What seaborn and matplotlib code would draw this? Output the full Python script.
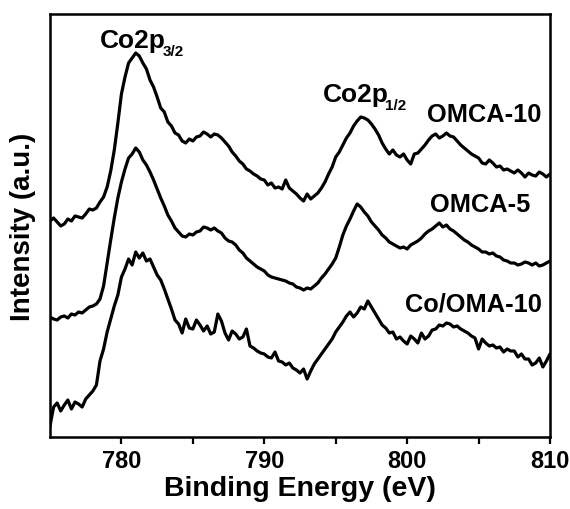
import numpy as np
import pandas as pd
import matplotlib
matplotlib.use("Agg")
import matplotlib.pyplot as plt
import seaborn as sns

# Binding energy grid (eV), 0.25 eV step
energy = np.arange(775.0, 810.001, 0.25)

omca10 = [216, 219, 215, 211, 213, 218, 216, 221, 220, 219, 223, 228, 227, 229, 235, 240,
          250, 266, 287, 314, 343, 360, 374, 379, 384, 381, 374, 368, 357, 350, 340, 329,
          325, 315, 311, 304, 302, 296, 294, 298, 296, 300, 301, 305, 303, 300, 303, 302,
          299, 295, 291, 285, 281, 276, 273, 268, 266, 263, 261, 258, 257, 252, 254, 249,
          250, 248, 257, 249, 246, 243, 239, 236, 243, 238, 241, 244, 249, 255, 263, 270,
          280, 285, 292, 299, 304, 311, 316, 320, 319, 317, 313, 308, 302, 294, 288, 283,
          287, 282, 280, 283, 277, 273, 283, 284, 288, 292, 297, 301, 303, 299, 301, 304,
          301, 300, 296, 292, 289, 286, 283, 281, 279, 274, 273, 277, 274, 270, 271, 267,
          268, 266, 264, 267, 264, 260, 264, 262, 261, 265, 263, 260, 263]

omca5 = [120, 118, 117, 120, 121, 119, 123, 122, 125, 124, 127, 130, 131, 133, 138, 151,
         174, 197, 219, 239, 255, 268, 279, 283, 289, 285, 277, 272, 265, 257, 248, 239,
         231, 222, 216, 209, 205, 201, 200, 203, 202, 205, 206, 210, 209, 207, 209, 206,
         204, 199, 196, 195, 192, 187, 184, 179, 176, 173, 170, 168, 166, 162, 160, 159,
         158, 157, 156, 154, 153, 150, 149, 147, 149, 148, 151, 154, 159, 163, 168, 173,
         179, 190, 202, 211, 218, 226, 233, 230, 225, 221, 215, 211, 207, 202, 199, 195,
         193, 191, 189, 190, 188, 192, 194, 196, 199, 203, 206, 208, 211, 214, 210, 212,
         208, 206, 203, 200, 197, 195, 192, 190, 188, 185, 185, 183, 184, 181, 180, 177,
         176, 174, 174, 172, 173, 175, 174, 172, 174, 171, 172, 174, 176]

co_oma10 = [11, 30, 34, 26, 32, 37, 28, 35, 33, 30, 38, 42, 46, 52, 76, 88,
            105, 118, 131, 142, 160, 168, 178, 172, 185, 179, 184, 176, 178, 170, 162, 157,
            148, 138, 128, 117, 113, 104, 118, 109, 108, 117, 112, 106, 111, 103, 105, 123,
            116, 104, 97, 106, 103, 98, 100, 108, 91, 89, 86, 84, 83, 80, 79, 85,
            76, 75, 72, 74, 69, 67, 64, 68, 58, 66, 73, 78, 83, 88, 93, 98,
            105, 110, 115, 121, 125, 120, 124, 130, 128, 136, 130, 124, 118, 112, 109, 104,
            105, 98, 100, 96, 93, 101, 98, 94, 104, 98, 101, 107, 108, 112, 111, 114,
            113, 110, 111, 108, 106, 104, 101, 99, 88, 98, 94, 91, 92, 89, 90, 85,
            88, 86, 86, 80, 83, 78, 78, 72, 74, 79, 70, 76, 83]

series_names = ["OMCA-10", "OMCA-5", "Co/OMA-10"]
x_ticks = [780, 790, 800, 810]
x_minor = [785, 795, 805]

frames = []
for name, vals in zip(series_names, [omca10, omca5, co_oma10]):
    frames.append(pd.DataFrame({"energy": energy, "intensity": vals, "sample": name}))
df = pd.concat(frames, ignore_index=True)

sns.set_style("white")
plt.rcParams["font.family"] = ["Liberation Sans", "DejaVu Sans"]
plt.rcParams["font.weight"] = "bold"
plt.rcParams["text.color"] = "black"
plt.rcParams["axes.labelcolor"] = "black"
plt.rcParams["xtick.color"] = "black"
plt.rcParams["ytick.color"] = "black"

fig = plt.figure(figsize=(5.7, 5.1), dpi=100)
ax = fig.add_axes([50 / 570, 1 - 438 / 510, 500 / 570, 423 / 510])

sns.lineplot(data=df, x="energy", y="intensity", units="sample", estimator=None,
             color="black", lw=2.3, ax=ax, legend=False, sort=False)

ax.set_xlim(775, 810)
ax.set_ylim(0, 423)
ax.set_xticks(x_ticks)
ax.set_xticks(x_minor, minor=True)
ax.set_yticks([])
ax.tick_params(axis="x", which="both", direction="out", length=5, width=1.6,
               labelsize=17, pad=4, colors="black", bottom=True)
for lab in ax.get_xticklabels():
    lab.set_fontweight("bold")
for sp in ax.spines.values():
    sp.set_visible(True)
    sp.set_linewidth(1.8)
    sp.set_color("black")

ax.set_xlabel("Binding Energy (eV)", fontsize=20.5, fontweight="bold", labelpad=2)
ax.set_ylabel("Intensity (a.u.)", fontsize=20, fontweight="bold", labelpad=10)

# Peak annotations with subscripts
t1 = ax.text(778.5, 390, "Co2p", fontsize=19, fontweight="bold", ha="left", va="baseline")
ax.annotate("3/2", xy=(1, 0), xycoords=t1, xytext=(-2.5, -2.5), textcoords="offset points",
            fontsize=11, fontweight="bold", ha="left", va="baseline")
t2 = ax.text(794.1, 336, "Co2p", fontsize=19, fontweight="bold", ha="left", va="baseline")
ax.annotate("1/2", xy=(1, 0), xycoords=t2, xytext=(-2.5, -2.5), textcoords="offset points",
            fontsize=11, fontweight="bold", ha="left", va="baseline")

ax.text(809.4, 316, "OMCA-10", fontsize=18.3, fontweight="bold", ha="right", va="baseline")
ax.text(808.6, 226, "OMCA-5", fontsize=18.3, fontweight="bold", ha="right", va="baseline")
ax.text(809.4, 126, "Co/OMA-10", fontsize=18.3, fontweight="bold", ha="right", va="baseline")

fig.savefig("out.png", dpi=100)
